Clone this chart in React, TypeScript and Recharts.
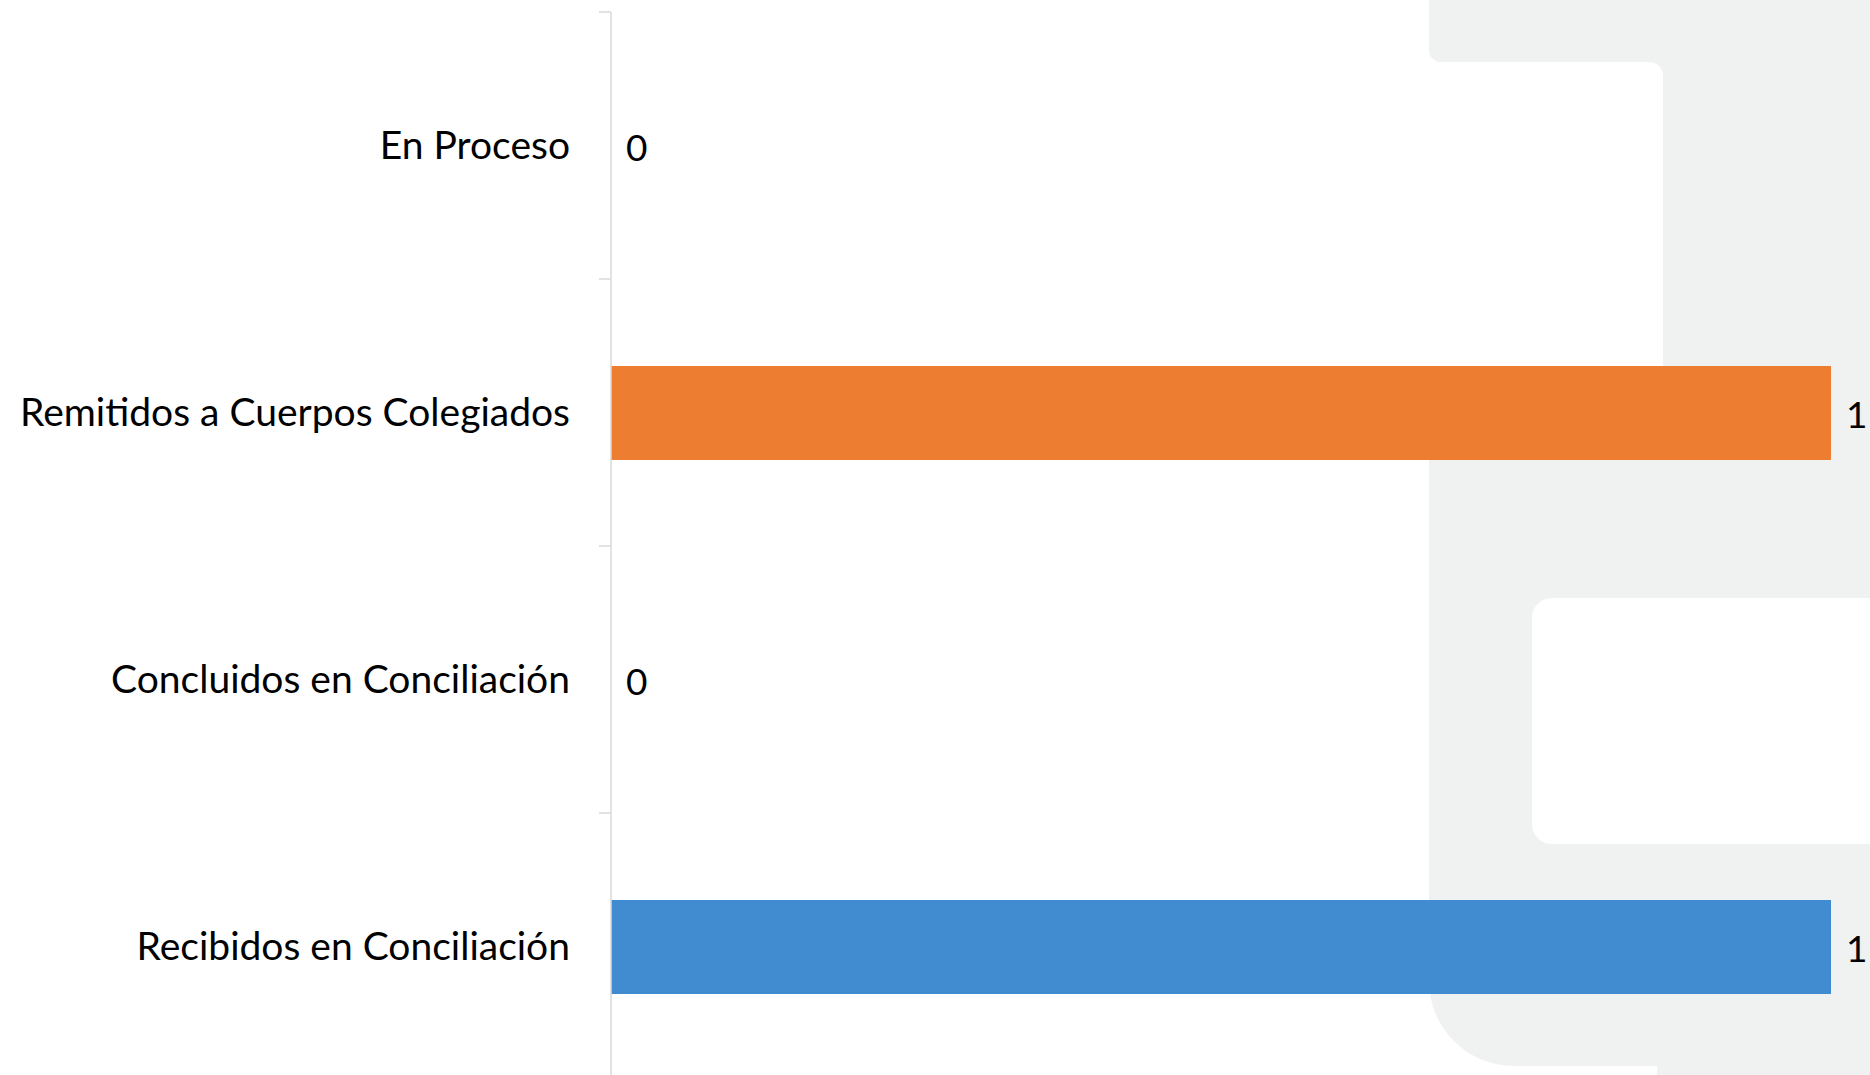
import React from "react";
import { BarChart, Bar, XAxis, YAxis, Cell, LabelList } from "recharts";

const categories = [
  "En Proceso",
  "Remitidos a Cuerpos Colegiados",
  "Concluidos en Conciliación",
  "Recibidos en Conciliación",
];
const values = [0, 1, 0, 1];
const barColors = ["#A5A5A5", "#ED7D31", "#FFC000", "#418BD0"];
const xDomain: [number, number] = [0, 1];

const data = categories.map((name, i) => ({ name, value: values[i] }));

const W = 1870;
const H = 1092;
const MARGIN = { top: 12, right: 39, bottom: 12, left: 0 };
const Y_AXIS_W = 611;
const TICK_MARGIN = 41;
const BAND = (H - MARGIN.top - MARGIN.bottom) / categories.length;
const FONT = "Lato, 'Open Sans', sans-serif";
const AXIS_COLOR = "#D9D9D9";
const BG_GREY = "#F0F1F1";

const CategoryTick = (props: any) => {
  const { x, y, payload } = props;
  const axisX = x + TICK_MARGIN;
  const top = y - BAND / 2;
  return (
    <g>
      <line x1={axisX - 12} x2={axisX} y1={top} y2={top} stroke={AXIS_COLOR} strokeWidth={1.5} />
      <text
        x={x}
        y={y - 2}
        textAnchor="end"
        dominantBaseline="central"
        fontFamily={FONT}
        fontSize={39}
        fill="#000"
      >
        {payload.value}
      </text>
    </g>
  );
};

const ValueLabel = (props: any) => {
  const { x, y, width, height, value } = props;
  return (
    <text
      x={x + width + 15}
      y={y + height / 2}
      textAnchor="start"
      dominantBaseline="central"
      fontFamily={FONT}
      fontSize={37}
      fill="#000"
    >
      {value}
    </text>
  );
};

const box = (s: React.CSSProperties): React.CSSProperties => ({ position: "absolute", ...s });

export default function App() {
  return (
    <div style={{ position: "absolute", left: 0, top: 0, width: 1870, height: 1075, overflow: "hidden", background: "#fff" }}>
      {/* decorative background watermark */}
      <div style={box({ left: 1429, top: 0, width: 441, height: 1066, background: BG_GREY, borderBottomLeftRadius: 85 })} />
      <div style={box({ left: 1657, top: 1040, width: 213, height: 35, background: BG_GREY })} />
      <div style={box({ left: 1429, top: 62, width: 234, height: 360, background: "#fff", borderTopRightRadius: 14 })} />
      <div style={box({ left: 1429, top: 50, width: 12, height: 12, background: "#fff" })} />
      <div style={box({ left: 1429, top: 50, width: 12, height: 12, background: BG_GREY, borderBottomLeftRadius: 12 })} />
      <div style={box({ left: 1532, top: 598, width: 338, height: 246, background: "#fff", borderTopLeftRadius: 20, borderBottomLeftRadius: 20 })} />

      <div style={box({ left: 0, top: 0 })}>
        <BarChart width={W} height={H} data={data} layout="vertical" margin={MARGIN}>
          <XAxis type="number" domain={xDomain} hide />
          <YAxis
            type="category"
            dataKey="name"
            width={Y_AXIS_W}
            axisLine={{ stroke: AXIS_COLOR, strokeWidth: 1.5 }}
            tickLine={false}
            tickSize={0}
            tickMargin={TICK_MARGIN}
            tick={<CategoryTick />}
            interval={0}
          />
          <Bar dataKey="value" barSize={94} minPointSize={0.01} isAnimationActive={false}>
            {data.map((d, i) => (
              <Cell key={d.name} fill={barColors[i]} />
            ))}
            <LabelList dataKey="value" content={<ValueLabel />} />
          </Bar>
        </BarChart>
      </div>
    </div>
  );
}
